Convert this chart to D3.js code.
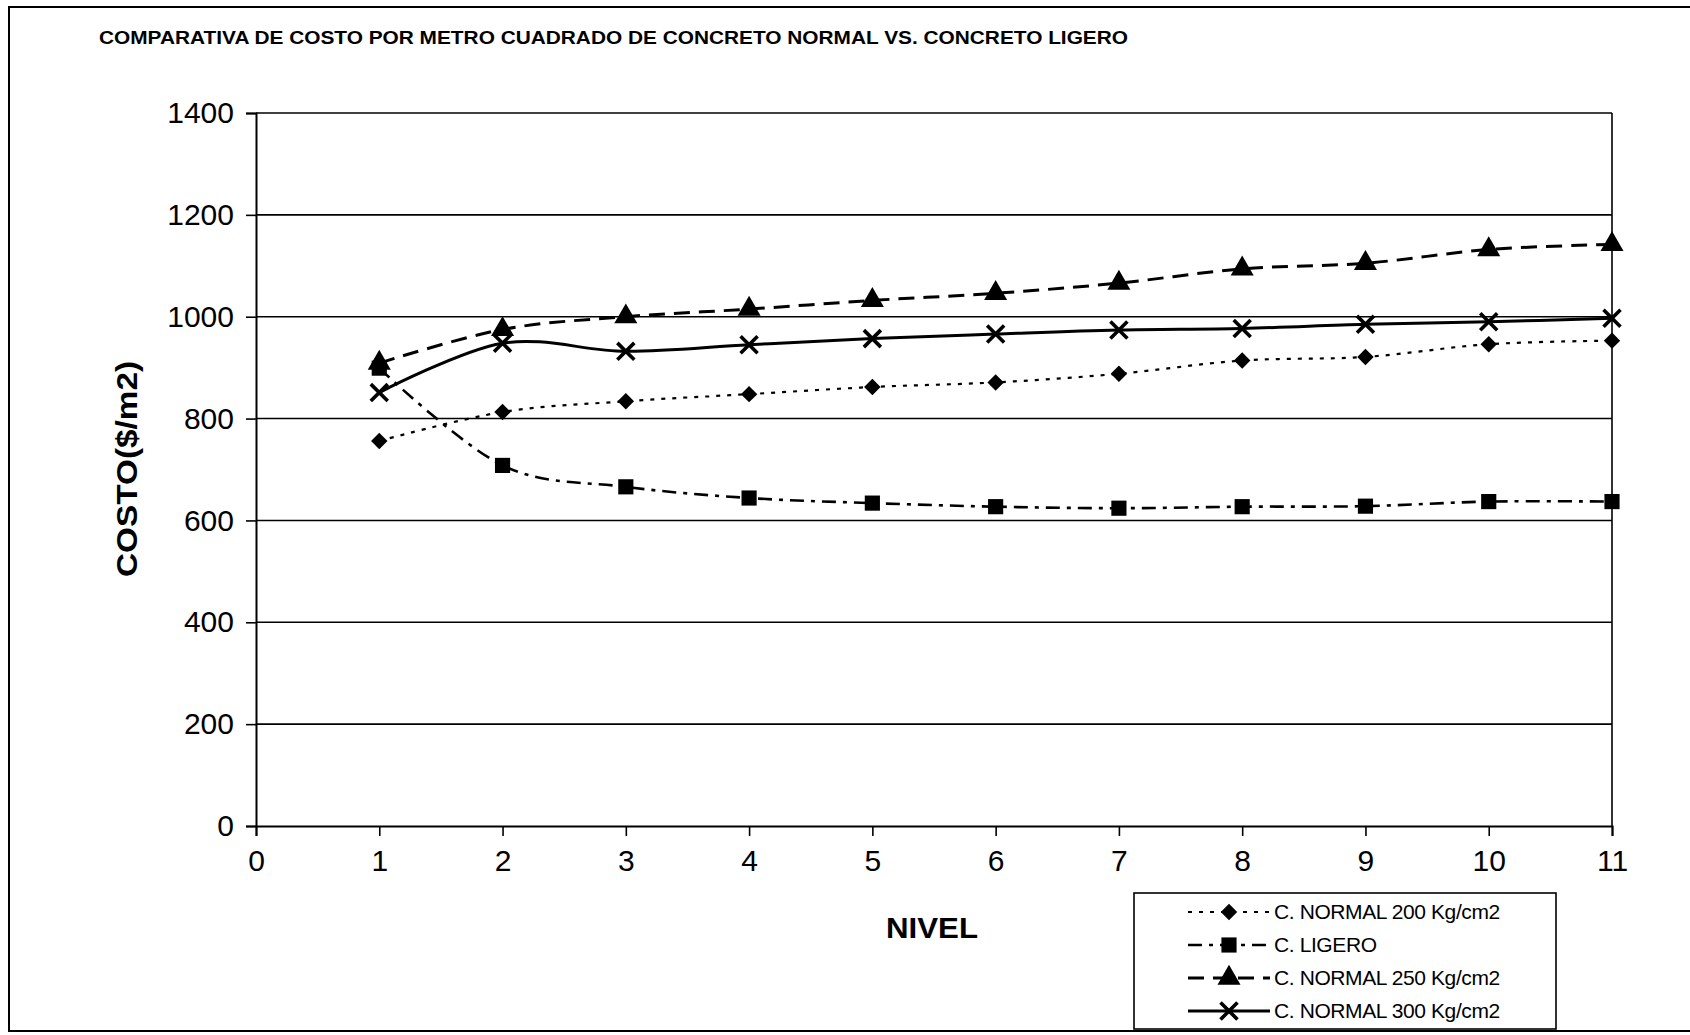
<!DOCTYPE html>
<html>
<head>
<meta charset="utf-8">
<script src="https://cdn.jsdelivr.net/npm/d3@7"></script>
<style>
  body { margin: 0; background: #fff; }
  svg { display: block; font-family: "Liberation Sans", Arial, sans-serif; }
</style>
</head>
<body>
<div id="chart"></div>
<script>
// data
var niveles = [1, 2, 3, 4, 5, 6, 7, 8, 9, 10, 11];
var normal200 = [756, 813, 834, 848, 862, 871, 888, 914, 921, 946, 953];
var ligero = [899, 708, 666, 644, 634, 627, 624, 627, 628, 637, 637];
var normal250 = [909, 975, 1000, 1015, 1032, 1046, 1066, 1094, 1105, 1132, 1142];
var normal300 = [851, 948, 932, 945, 957, 966, 974, 977, 985, 990, 997];
var seriesNames = ["C. NORMAL 200 Kg/cm2", "C. LIGERO", "C. NORMAL 250 Kg/cm2", "C. NORMAL 300 Kg/cm2"];
var xTicks = [0, 1, 2, 3, 4, 5, 6, 7, 8, 9, 10, 11];
var yTicks = [0, 200, 400, 600, 800, 1000, 1200, 1400];

var width = 1690, height = 1035;
var margin = {top: 113, right: 78, bottom: 209, left: 256};
var chartWidth = width - margin.left - margin.right;
var chartHeight = height - margin.top - margin.bottom;

var svg = d3.select("#chart").append("svg")
    .attr("width", width)
    .attr("height", height);

// outer chart frame (right side runs off the page)
svg.append("rect")
    .attr("x", 9).attr("y", 7)
    .attr("width", 1700).attr("height", 1024)
    .attr("fill", "none")
    .attr("stroke", "#000")
    .attr("stroke-width", 2);

svg.append("text")
    .attr("x", 99).attr("y", 44)
    .attr("font-size", 18)
    .attr("font-weight", "bold")
    .attr("textLength", 1029)
    .attr("lengthAdjust", "spacingAndGlyphs")
    .text("COMPARATIVA DE COSTO POR METRO CUADRADO DE CONCRETO NORMAL VS. CONCRETO LIGERO");

var g = svg.append("g")
    .attr("transform", `translate(${margin.left}, ${margin.top})`);

var xScale = d3.scaleLinear().domain([0, 11]).range([0, chartWidth]);
var yScale = d3.scaleLinear().domain([0, 1400]).range([chartHeight, 0]);

// gridlines
g.append("g")
  .selectAll("line")
  .data(yTicks.filter(d => d > 0))
  .join("line")
    .attr("x1", 0).attr("x2", chartWidth)
    .attr("y1", d => yScale(d)).attr("y2", d => yScale(d))
    .attr("stroke", "#000")
    .attr("stroke-width", 1.6);

// right border of the plot area
g.append("line")
    .attr("x1", chartWidth).attr("x2", chartWidth)
    .attr("y1", 0).attr("y2", chartHeight)
    .attr("stroke", "#000").attr("stroke-width", 1.6);

var xAxis = d3.axisBottom(xScale).tickValues(xTicks).tickSize(10).tickPadding(14).tickFormat(d3.format("d"));
var yAxis = d3.axisLeft(yScale).tickValues(yTicks).tickSize(10).tickPadding(12).tickFormat(d3.format("d"));

g.append("g")
    .attr("class", "x axis")
    .attr("transform", `translate(0,${chartHeight})`)
    .call(xAxis)
    .call(a => a.select(".domain").attr("stroke-width", 2))
    .call(a => a.selectAll(".tick line").attr("stroke-width", 1.6))
    .selectAll("text")
      .style("font-size", "30px")
      .attr("fill", "#000");

g.append("g")
    .attr("class", "y axis")
    .call(yAxis)
    .call(a => a.select(".domain").attr("stroke-width", 2))
    .call(a => a.selectAll(".tick line").attr("stroke-width", 1.6))
    .selectAll("text")
      .style("font-size", "30px")
      .attr("fill", "#000");

svg.append("text")
    .attr("x", 932).attr("y", 938)
    .attr("text-anchor", "middle")
    .attr("font-size", 30)
    .attr("font-weight", "bold")
    .attr("textLength", 92)
    .attr("lengthAdjust", "spacingAndGlyphs")
    .text("NIVEL");

svg.append("text")
    .attr("transform", "translate(137,469) rotate(-90)")
    .attr("text-anchor", "middle")
    .attr("font-size", 30)
    .attr("font-weight", "bold")
    .attr("textLength", 216)
    .attr("lengthAdjust", "spacingAndGlyphs")
    .text("COSTO($/m2)");

var styles = [
  {values: normal200, dash: "4,7", width: 2.2, marker: "diamond"},
  {values: ligero, dash: "14,7,4,7", width: 2.6, marker: "square"},
  {values: normal250, dash: "16,9", width: 3, marker: "triangle"},
  {values: normal300, dash: null, width: 3, marker: "cross"}
];

var series = styles.map((s, i) => Object.assign({name: seriesNames[i],
  points: niveles.map((n, j) => ({x: n, y: s.values[j]}))}, s));

var line = d3.line()
    .x(d => xScale(d.x))
    .y(d => yScale(d.y))
    .curve(d3.curveCardinal.tension(0));

var symbolType = {
  diamond: d3.symbolSquare,
  square: d3.symbolSquare,
  triangle: d3.symbolTriangle,
  cross: d3.symbolX
};
var symbolSize = {diamond: 135, square: 230, triangle: 230, cross: 190};

function drawMarker(sel, type) {
  var path = sel.append("path")
      .attr("d", d3.symbol().type(symbolType[type]).size(symbolSize[type]));
  if (type === "diamond") path.attr("transform", "rotate(45)");
  if (type === "cross") {
    path.attr("fill", "none").attr("stroke", "#000").attr("stroke-width", 3.6);
  } else {
    path.attr("fill", "#000");
  }
}

var seriesG = g.append("g")
  .selectAll("g")
  .data(series)
  .join("g");

seriesG.append("path")
    .attr("d", d => line(d.points))
    .attr("fill", "none")
    .attr("stroke", "#000")
    .attr("stroke-width", d => d.width)
    .attr("stroke-dasharray", d => d.dash);

seriesG.each(function(s) {
  d3.select(this).selectAll("g.pt")
    .data(s.points)
    .join("g")
      .attr("class", "pt")
      .attr("transform", d => `translate(${xScale(d.x)},${yScale(d.y)})`)
      .each(function() { drawMarker(d3.select(this), s.marker); });
});

// legend
var legend = svg.append("g")
    .attr("transform", "translate(1134,893)");

legend.append("rect")
    .attr("width", 422).attr("height", 136)
    .attr("fill", "#fff")
    .attr("stroke", "#000")
    .attr("stroke-width", 1.6);

var items = legend.selectAll("g.item")
  .data(series)
  .join("g")
    .attr("class", "item")
    .attr("transform", (d, i) => `translate(0,${19 + i * 33})`);

items.append("line")
    .attr("x1", 54).attr("x2", 136)
    .attr("stroke", "#000")
    .attr("stroke-width", d => d.width)
    .attr("stroke-dasharray", d => d.dash);

items.each(function(d) {
  var m = d3.select(this).append("g").attr("transform", "translate(95,0)");
  drawMarker(m, d.marker);
});

items.append("text")
    .attr("x", 140)
    .attr("dy", "0.35em")
    .attr("font-size", 21)
    .attr("letter-spacing", "-0.4px")
    .text(d => d.name);
</script>
</body>
</html>
